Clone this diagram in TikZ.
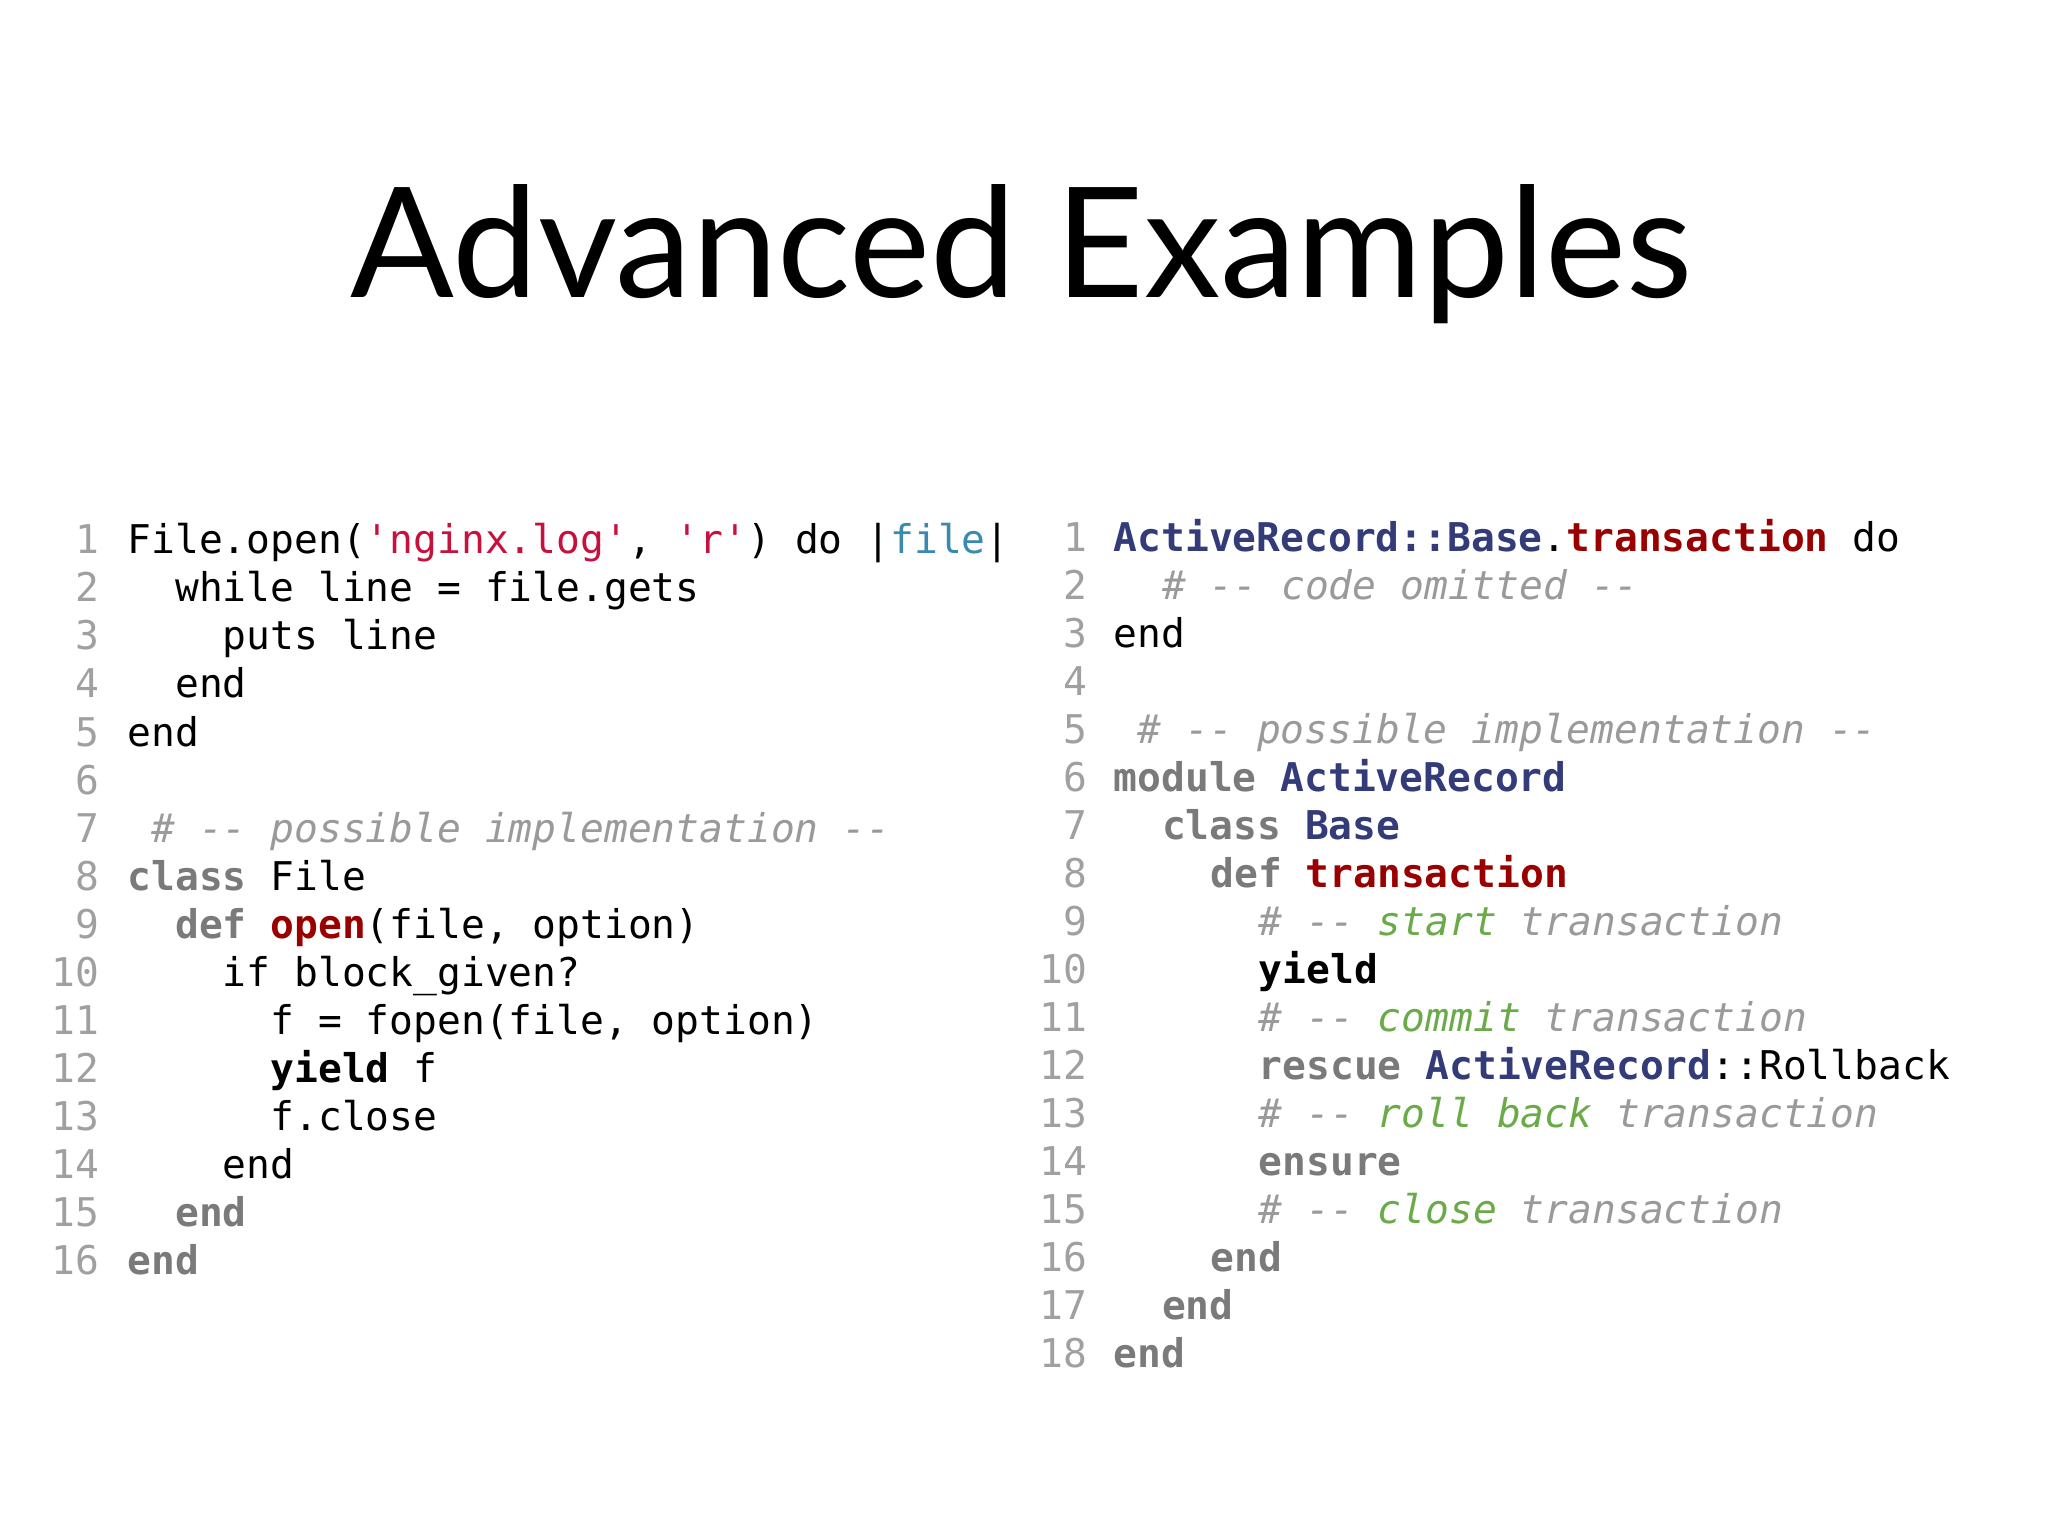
\documentclass[tikz,border=0pt]{standalone}
\usepackage{fontspec}
\setmainfont{Lato}
\newfontfamily\codefont{DejaVu Sans Mono}
\definecolor{numc}{HTML}{A0A0A0}
\definecolor{kwc}{HTML}{7A7A7A}
\definecolor{redc}{HTML}{990000}
\definecolor{navyc}{HTML}{333C78}
\definecolor{strc}{HTML}{C8103F}
\definecolor{varc}{HTML}{3A8AB0}
\definecolor{cmc}{HTML}{9A9A9A}
\definecolor{grc}{HTML}{6AAA48}
\newcommand{\kwd}[1]{{\bfseries\color{kwc}#1}}
\newcommand{\fnm}[1]{{\bfseries\color{redc}#1}}
\newcommand{\cls}[1]{{\bfseries\color{navyc}#1}}
\newcommand{\str}[1]{{\color{strc}#1}}
\newcommand{\cmt}[1]{{\itshape\color{cmc}#1}}
\newcommand{\gcm}[1]{{\itshape\color{grc}#1}}
\begin{document}
\begin{tikzpicture}[x=0.01cm,y=-0.01cm,
  code/.style={anchor=base west,inner sep=0pt,font=\codefont\fontsize{8.62pt}{10pt}\selectfont},
  num/.style={anchor=base east,inner sep=0pt,text=numc,font=\codefont\fontsize{8.62pt}{10pt}\selectfont}]
\useasboundingbox (0,0) rectangle (1568,1176);
\node[inner sep=0pt,anchor=base,font=\fontsize{33.4pt}{40pt}\selectfont] (title) at (782,228) {Advanced Examples};
% left column
\foreach \i in {1,...,16}{\node[num] (ln\i) at (77,{424+(\i-1)*36.8}) {\i};}
\def\L#1{{424+(#1-1)*36.8}}
\node[code] (l1) at (97,\L{1}) {File.open(\str{'nginx.log'}, \str{'r'}) do |{\color{varc}file}|};
\node[code] (l2) at (133.5,\L{2}) {while line = file.gets};
\node[code] (l3) at (170,\L{3}) {puts line};
\node[code] (l4) at (133.5,\L{4}) {end};
\node[code] (l5) at (97,\L{5}) {end};
\node[code] (l7) at (115.2,\L{7}) {\cmt{\# -- possible implementation --}};
\node[code] (l8) at (97,\L{8}) {\kwd{class} File};
\node[code] (l9) at (133.5,\L{9}) {\kwd{def} \fnm{open}(file, option)};
\node[code] (l10) at (170,\L{10}) {if block\_given?};
\node[code] (l11) at (206.5,\L{11}) {f = fopen(file, option)};
\node[code] (l12) at (206.5,\L{12}) {\textbf{yield} f};
\node[code] (l13) at (206.5,\L{13}) {f.close};
\node[code] (l14) at (170,\L{14}) {end};
\node[code] (l15) at (133.5,\L{15}) {\kwd{end}};
\node[code] (l16) at (97,\L{16}) {\kwd{end}};
% right column
\def\R#1{{422+(#1-1)*36.76}}
\foreach \i in {1,...,18}{\node[num] (rn\i) at (833,{422+(\i-1)*36.76}) {\i};}
\node[code] (r1) at (852,\R{1}) {\cls{ActiveRecord::Base}.\fnm{transaction} do};
\node[code] (r2) at (889,\R{2}) {\cmt{\# -- code omitted --}};
\node[code] (r3) at (852,\R{3}) {end};
\node[code] (r5) at (870.5,\R{5}) {\cmt{\# -- possible implementation --}};
\node[code] (r6) at (852,\R{6}) {\kwd{module} \cls{ActiveRecord}};
\node[code] (r7) at (889,\R{7}) {\kwd{class} \cls{Base}};
\node[code] (r8) at (926,\R{8}) {\kwd{def} \fnm{transaction}};
\node[code] (r9) at (963,\R{9}) {\cmt{\# -- \gcm{start} transaction}};
\node[code] (r10) at (963,\R{10}) {\textbf{yield}};
\node[code] (r11) at (963,\R{11}) {\cmt{\# -- \gcm{commit} transaction}};
\node[code] (r12) at (963,\R{12}) {\kwd{rescue} \cls{ActiveRecord}::Rollback};
\node[code] (r13) at (963,\R{13}) {\cmt{\# -- \gcm{roll back} transaction}};
\node[code] (r14) at (963,\R{14}) {\kwd{ensure}};
\node[code] (r15) at (963,\R{15}) {\cmt{\# -- \gcm{close} transaction}};
\node[code] (r16) at (926,\R{16}) {\kwd{end}};
\node[code] (r17) at (889,\R{17}) {\kwd{end}};
\node[code] (r18) at (852,\R{18}) {\kwd{end}};
\end{tikzpicture}
\end{document}
